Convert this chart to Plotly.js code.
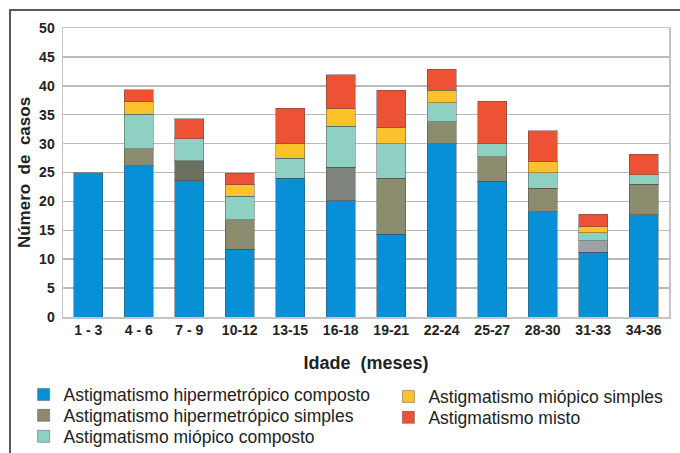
<!DOCTYPE html>
<html>
<head>
<meta charset="utf-8">
<script src="https://cdn.plot.ly/plotly-3.0.1.min.js"></script>
<style>
  html, body { margin: 0; padding: 0; background: #ffffff; overflow: hidden; }
  #chart { position: absolute; left: 0; top: 0; width: 680px; height: 453px; }
  #frame { position: absolute; left: 9px; top: 9px; width: 720px; height: 500px;
           border-left: 2px solid #5a5a5a; border-top: 2px solid #5a5a5a; pointer-events: none; }
</style>
</head>
<body>
<div id="chart"></div>
<div id="frame"></div>
<script>
// Age groups (months)
const categories = ["1 - 3", "4 - 6", "7 - 9", "10-12", "13-15", "16-18", "19-21", "22-24", "25-27", "28-30", "31-33", "34-36"];

// Number of cases per astigmatism type (estimated from the figure)
const hiperComposto = [25, 26.2, 23.6, 11.7, 24.0, 20.1, 14.3, 30.0, 23.5, 18.2, 11.2, 17.7];
const hiperSimples  = [null, 2.9, 3.4, 5.1, null, 5.8, 9.7, 3.8, 4.2, 4.1, 2.0, 5.3];
const mioComposto   = [null, 6.0, 3.8, 4.1, 3.5, 7.1, 6.0, 3.3, 2.3, 2.7, 1.4, 1.6];
const mioSimples    = [null, 2.1, null, 2.0, 2.5, 3.0, 2.7, 2.1, null, 1.9, 1.0, null];
const misto         = [null, 2.1, 3.5, 2.0, 6.1, 5.9, 6.5, 3.7, 7.3, 5.3, 2.2, 3.6];

const seriesNames = [
  "Astigmatismo hipermetrópico composto",
  "Astigmatismo hipermetrópico simples",
  "Astigmatismo miópico composto",
  "Astigmatismo miópico simples",
  "Astigmatismo misto"
];
const yTicks = [0, 5, 10, 15, 20, 25, 30, 35, 40, 45, 50];

// styles
const olivePerBar = ["#8b8b6d", "#8b8b6d", "#6c6f60", "#8b8b6d", "#8b8b6d", "#7f847f", "#8b8b6d", "#8b8b6d", "#8b8b6d", "#8b8b6d", "#9ca1a3", "#8b8b6d"];
const outline = { color: "rgba(70,70,70,0.45)", width: 1 };

function mk(y, name, color, legendId) {
  return {
    type: "bar", x: categories, y: y, name: name,
    marker: { color: color, line: outline },
    legend: legendId, hoverinfo: "y+name"
  };
}

const data = [
  mk(hiperComposto, seriesNames[0], "#0790d5", "legend"),
  mk(hiperSimples, seriesNames[1], olivePerBar, "legend2"),
  mk(mioComposto, seriesNames[2], "#8ed0c2", "legend3"),
  mk(mioSimples, seriesNames[3], "#fbc22b", "legend4"),
  mk(misto, seriesNames[4], "#ee5235", "legend5")
];

function leg(x, y) {
  return {
    orientation: "v", x: x, xanchor: "left", y: y, yanchor: "middle",
    font: { size: 17.5, color: "#222222" }, bgcolor: "rgba(0,0,0,0)",
    itemclick: false, itemdoubleclick: false
  };
}
const col1X = -0.065, col2X = 0.537;

const layout = {
  width: 680, height: 453,
  paper_bgcolor: "rgba(0,0,0,0)",
  plot_bgcolor: "#ffffff",
  barmode: "stack",
  bargap: 0.426,
  margin: { l: 63, r: 11, t: 28, b: 136, autoexpand: false },
  font: { family: "Liberation Sans, Arial, sans-serif", color: "#222222" },
  xaxis: {
    type: "category",
    showgrid: false,
    showline: true, mirror: true, linecolor: "#c4c4c4", linewidth: 1.5,
    ticks: "",
    tickfont: { size: 14, weight: 700, color: "#222222" },
    title: { text: "<b>Idade  (meses)</b>", font: { size: 18, color: "#222222" }, standoff: 19 },
    automargin: false
  },
  yaxis: {
    range: [0, 50],
    tickvals: yTicks,
    showgrid: true, gridcolor: "#b9b9b9", gridwidth: 1.5,
    zeroline: false,
    showline: true, mirror: true, linecolor: "#c4c4c4", linewidth: 1.5,
    ticks: "",
    ticklabelstandoff: 4,
    tickfont: { size: 14, weight: 700, color: "#222222" },
    title: { text: "<b>Número  de  casos</b>", font: { size: 17, color: "#222222" }, standoff: 4 },
    automargin: false
  },
  showlegend: true,
  legend:  leg(col1X, -0.2683),
  legend2: leg(col1X, -0.3408),
  legend3: leg(col1X, -0.4133),
  legend4: leg(col2X, -0.2752),
  legend5: leg(col2X, -0.3477)
};

Plotly.newPlot("chart", data, layout, { displayModeBar: false, staticPlot: true });
</script>
</body>
</html>
